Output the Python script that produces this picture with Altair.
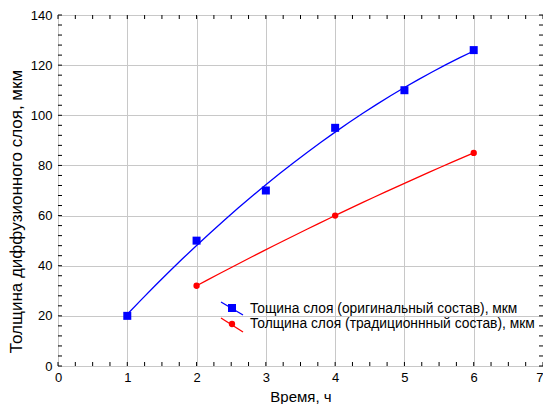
import altair as alt
import pandas as pd

# Data
time_orig = [1, 2, 3, 4, 5, 6]
thick_orig = [20, 50, 70, 95, 110, 126]
time_trad = [2, 4, 6]
thick_trad = [32, 60, 85]

label_orig = "Тощина слоя (оригинальный состав), мкм"
label_trad = "Толщина слоя (традиционнный состав), мкм"

x_ticks = [0, 1, 2, 3, 4, 5, 6, 7]
y_ticks = [0, 20, 40, 60, 80, 100, 120, 140]
x_minor = [i * 0.25 for i in range(0, 29)]
y_minor = [i * 4 for i in range(0, 36)]

W, H = 485, 351
FONT = "Liberation Sans"
BLUE = "#0000ff"
RED = "#ff0000"

df_o = pd.DataFrame({"t": time_orig, "v": thick_orig})
df_t = pd.DataFrame({"t": time_trad, "v": thick_trad})
df_xm = pd.DataFrame({"t": x_minor})
df_ym = pd.DataFrame({"v": y_minor})

xs = alt.Scale(domain=[0, 7], nice=False)
ys = alt.Scale(domain=[0, 140], nice=False)

x_axis = alt.Axis(values=x_ticks, format="d", grid=True, gridColor="#c8c8c8",
                  gridWidth=1, ticks=False, domain=False, labelFont=FONT,
                  labelFontSize=13, labelColor="#000", labelPadding=5,
                  labelFlush=False, labelOverlap=False,
                  labelAlign={"condition": {"test": "datum.value === 7", "value": "right"},
                              "value": "center"},
                  title="Время, ч", titleFont=FONT, titleFontSize=15,
                  titleFontWeight="normal", titleColor="#000",
                  titleBaseline="alphabetic", titleY=35)
y_axis = alt.Axis(values=y_ticks, format="d", grid=True, gridColor="#c8c8c8",
                  gridWidth=1, ticks=False, domain=False, labelFont=FONT,
                  labelFontSize=13, labelColor="#000", labelPadding=6,
                  labelFlush=False, labelOverlap=False,
                  title="Толщина диффузионного слоя, мкм",
                  titleFont=FONT, titleFontSize=17, titleFontWeight="normal",
                  titleColor="#000", titleX=-33, titleY=196)

grid = alt.Chart(df_o).mark_point(opacity=0).encode(
    x=alt.X("t:Q", scale=xs, axis=x_axis),
    y=alt.Y("v:Q", scale=ys, axis=y_axis),
)

fit_o = alt.Chart(df_o).transform_regression(
    "t", "v", method="poly", order=2, extent=[1, 6]
).mark_line(color=BLUE, strokeWidth=1.3).encode(
    x=alt.X("t:Q", scale=xs), y=alt.Y("v:Q", scale=ys))
fit_t = alt.Chart(df_t).transform_regression(
    "t", "v", method="poly", order=2, extent=[2, 6]
).mark_line(color=RED, strokeWidth=1.3).encode(
    x=alt.X("t:Q", scale=xs), y=alt.Y("v:Q", scale=ys))

pts_o = alt.Chart(df_o).mark_point(shape="square", filled=True, color=BLUE,
                                   size=64, opacity=1).encode(
    x=alt.X("t:Q", scale=xs), y=alt.Y("v:Q", scale=ys))
pts_t = alt.Chart(df_t).mark_point(shape="circle", filled=True, color=RED,
                                   size=40, opacity=1).encode(
    x=alt.X("t:Q", scale=xs), y=alt.Y("v:Q", scale=ys))

# inward minor ticks on all four sides
tk_bottom = alt.Chart(df_xm).mark_rule(color="#000", strokeWidth=1).encode(
    x=alt.X("t:Q", scale=xs), y=alt.value(H), y2=alt.value(H - 4))
tk_top = alt.Chart(df_xm).mark_rule(color="#000", strokeWidth=1).encode(
    x=alt.X("t:Q", scale=xs), y=alt.value(0), y2=alt.value(4))
tk_left = alt.Chart(df_ym).mark_rule(color="#000", strokeWidth=1).encode(
    y=alt.Y("v:Q", scale=ys), x=alt.value(0), x2=alt.value(4))
tk_right = alt.Chart(df_ym).mark_rule(color="#000", strokeWidth=1).encode(
    y=alt.Y("v:Q", scale=ys), x=alt.value(W), x2=alt.value(W - 4))

# custom legend
one = pd.DataFrame({"a": [0]})
leg_line_o = alt.Chart(one).mark_rule(color=BLUE, strokeWidth=1.3).encode(
    x=alt.value(163), x2=alt.value(185), y=alt.value(287), y2=alt.value(300))
leg_pt_o = alt.Chart(one).mark_point(shape="square", filled=True, color=BLUE,
                                     size=64, opacity=1).encode(
    x=alt.value(174), y=alt.value(293))
leg_txt_o = alt.Chart(one).mark_text(align="left", baseline="middle", font=FONT,
                                     fontSize=13.8, color="#000",
                                     text=label_orig).encode(
    x=alt.value(192), y=alt.value(294))
leg_line_t = alt.Chart(one).mark_rule(color=RED, strokeWidth=1.3).encode(
    x=alt.value(163), x2=alt.value(185), y=alt.value(303), y2=alt.value(317))
leg_pt_t = alt.Chart(one).mark_point(shape="circle", filled=True, color=RED,
                                     size=40, opacity=1).encode(
    x=alt.value(174), y=alt.value(309))
leg_txt_t = alt.Chart(one).mark_text(align="left", baseline="middle", font=FONT,
                                     fontSize=13.8, color="#000",
                                     text=label_trad).encode(
    x=alt.value(192), y=alt.value(309))

chart = alt.layer(
    grid, tk_bottom, tk_top, tk_left, tk_right,
    fit_o, fit_t, pts_o, pts_t,
    leg_line_o, leg_pt_o, leg_txt_o, leg_line_t, leg_pt_t, leg_txt_t,
).properties(
    width=W, height=H,
    autosize=alt.AutoSizeParams(type="none"),
    padding={"left": 50, "top": 7, "right": 0, "bottom": 38},
).configure_view(stroke="#000", strokeWidth=1).configure(background="#ffffff")

chart.save("out.html", embed_options={"renderer": "svg", "actions": False})
